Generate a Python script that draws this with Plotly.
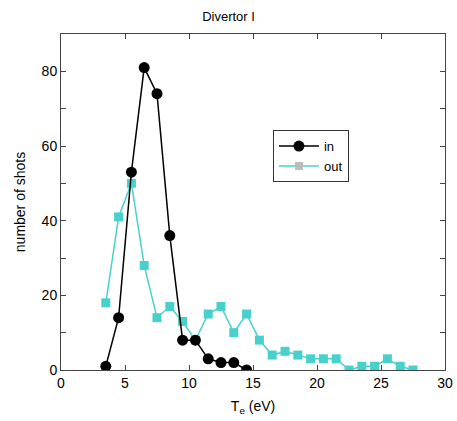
import plotly.graph_objects as go

x_in = [3.5, 4.5, 5.5, 6.5, 7.5, 8.5, 9.5, 10.5, 11.5, 12.5, 13.5, 14.5]
y_in = [1, 14, 53, 81, 74, 36, 8, 8, 3, 2, 2, 0]
x_out = [3.5, 4.5, 5.5, 6.5, 7.5, 8.5, 9.5, 10.5, 11.5, 12.5, 13.5, 14.5, 15.5,
         16.5, 17.5, 18.5, 19.5, 20.5, 21.5, 22.5, 23.5, 24.5, 25.5, 26.5, 27.5]
y_out = [18, 41, 50, 28, 14, 17, 13, 8, 15, 17, 10, 15, 8,
         4, 5, 4, 3, 3, 3, 0, 1, 1, 3, 1, 0]

TURQ = "#48D1CC"
font = "Liberation Sans, Arial, sans-serif"

fig = go.Figure()
fig.add_trace(go.Scatter(x=x_out, y=y_out, mode="lines+markers", showlegend=False,
                         line=dict(color=TURQ, width=1.5),
                         marker=dict(symbol="square", size=9, color=TURQ)))
fig.add_trace(go.Scatter(x=x_in, y=y_in, mode="lines+markers", showlegend=False,
                         line=dict(color="black", width=1.5),
                         marker=dict(symbol="circle", size=11, color="black")))
# legend entries
fig.add_trace(go.Scatter(x=[None], y=[None], mode="lines+markers", name="in",
                         line=dict(color="black", width=1.5),
                         marker=dict(symbol="circle", size=11, color="black")))
fig.add_trace(go.Scatter(x=[None], y=[None], mode="lines+markers", name="out",
                         line=dict(color=TURQ, width=1.5),
                         marker=dict(symbol="square", size=8, color="#BBBBBB")))

axis_common = dict(showgrid=False, zeroline=False, showline=True, linecolor="#444",
                   linewidth=1, mirror="ticks", ticks="inside", ticklen=5,
                   tickcolor="#444", automargin=False,
                   tickfont=dict(size=14, family=font, color="black"))

fig.update_layout(
    width=457, height=421,
    margin=dict(l=61, r=12, t=34, b=51),
    paper_bgcolor="white", plot_bgcolor="white",
    title=dict(text="Divertor I", x=0.5, xanchor="center", y=0.96, yanchor="middle",
               font=dict(size=13, family=font, color="black")),
    xaxis=dict(range=[0, 30], tickvals=[0, 5, 10, 15, 20, 25, 30],
               title=dict(text="T<sub>e</sub> (eV)", standoff=11,
                          font=dict(size=14, family=font, color="black")),
               **axis_common),
    yaxis=dict(range=[0, 90], tickvals=[0, 20, 40, 60, 80],
               minor=dict(ticks="inside", tickvals=[10, 30, 50, 70], ticklen=5,
                          tickcolor="#444", showgrid=False),
               title=dict(text="number of shots", standoff=12,
                          font=dict(size=14, family=font, color="black")),
               **axis_common),
    legend=dict(x=0.552, y=0.714, xanchor="left", yanchor="top",
                bordercolor="#333", borderwidth=1, bgcolor="white",
                font=dict(size=13, family=font, color="black"),
                tracegroupgap=0, itemwidth=40),
)

fig.write_html("out.html", post_script="document.body.style.margin='0';",
               config={"displayModeBar": False})
